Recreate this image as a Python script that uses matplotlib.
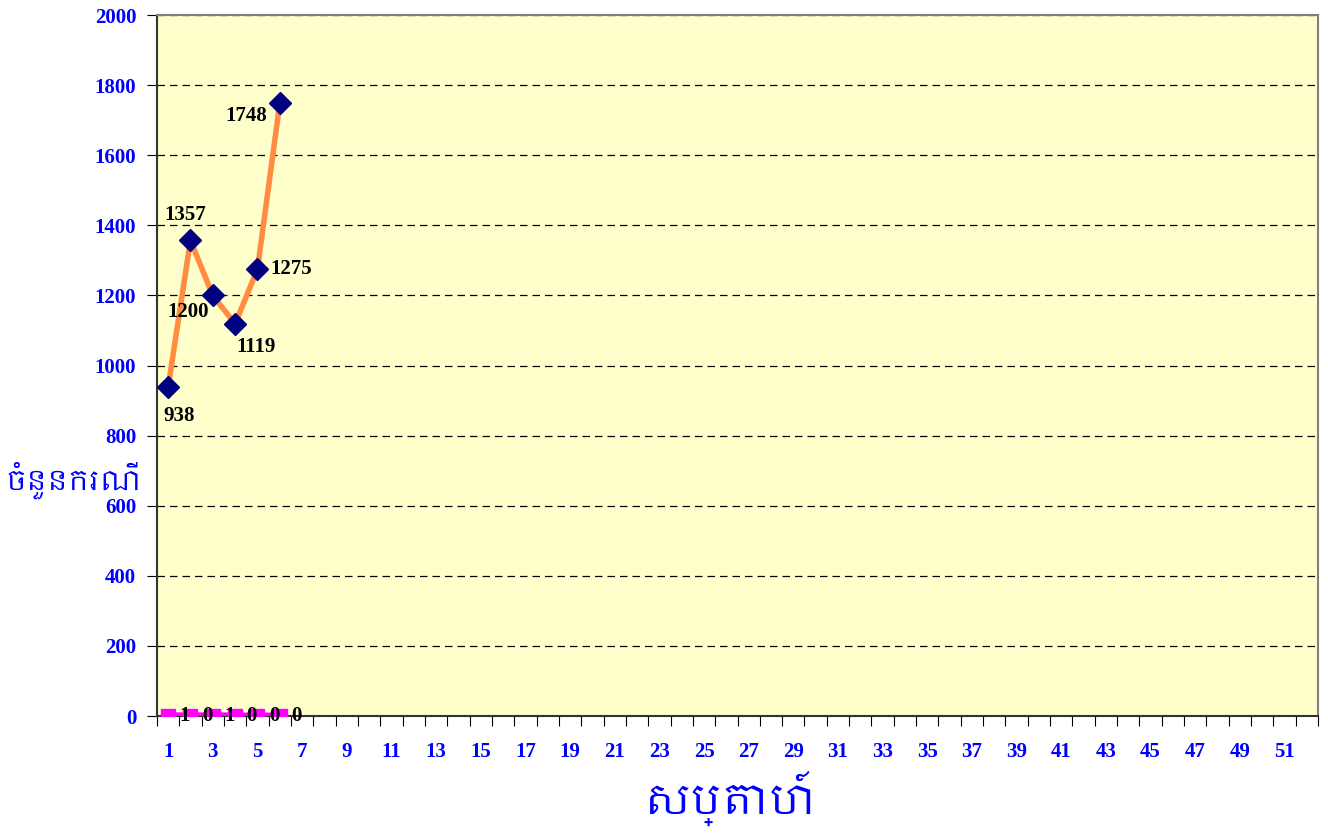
import matplotlib
matplotlib.use("Agg")
import matplotlib.pyplot as plt
from matplotlib import font_manager
from matplotlib.ticker import FixedLocator, NullFormatter

weeks = list(range(1, 53))
cases_weeks = [1, 2, 3, 4, 5, 6]
cases = [938, 1357, 1200, 1119, 1275, 1748]
deaths = [1, 0, 1, 0, 0, 0]
y_ticks = [0, 200, 400, 600, 800, 1000, 1200, 1400, 1600, 1800, 2000]
y_label = "ចំនួនករណី"
x_label = "សប្តាហ៍"

# look for a font that has khmer glyphs
khmer = []
for f in font_manager.fontManager.ttflist:
    if "khmer" in f.name.lower() and f.name not in khmer:
        khmer.append(f.name)
khmer_family = khmer + ["DejaVu Sans"]

serif = "Liberation Serif"

fig = plt.figure(figsize=(13.28, 8.36), dpi=100)
ax = fig.add_axes([0.1182, 0.1435, 0.8743, 0.8385])
ax.set_facecolor("#FFFFCC")

ax.plot(cases_weeks, cases, color="#FF8C40", lw=4, zorder=3)
ax.plot(cases_weeks, cases, ls="none", marker="D", markersize=11,
        color="#000080", zorder=4)
ax.plot(cases_weeks, deaths, color="#FF00FF", lw=5, marker="s",
        markersize=10, zorder=3)

# data labels (offsets in points)
offs = [(8, -21), (-4, 18), (-18, -12), (15, -17), (24, 0), (-24, -9)]
for x, y, o in zip(cases_weeks, cases, offs):
    ax.annotate(str(y), (x, y), xytext=o, textcoords="offset points",
                ha="center", va="center", fontsize=15, fontweight="bold",
                family=serif, color="black", zorder=5)
for x, y in zip(cases_weeks, deaths):
    ax.annotate(str(y), (x, y), xytext=(12, 0), textcoords="offset points",
                ha="center", va="center", fontsize=15, fontweight="bold",
                family=serif, color="black", zorder=5)

ax.set_xlim(0.5, 52.5)
ax.set_ylim(0, 2000)
ax.set_yticks(y_ticks)
ax.set_yticklabels([str(v) for v in y_ticks])
ax.yaxis.grid(True, color="black", ls=(0, (6, 4)), lw=0.9)
ax.set_axisbelow(True)

ax.xaxis.set_major_locator(FixedLocator([w + 0.5 for w in range(0, 53)]))
ax.xaxis.set_major_formatter(NullFormatter())
ax.xaxis.set_minor_locator(FixedLocator([w for w in weeks if w % 2 == 1]))
ax.set_xticklabels([str(w) for w in weeks if w % 2 == 1], minor=True)
ax.tick_params(axis="x", which="minor", length=0, pad=19)
ax.tick_params(axis="x", which="major", length=7, direction="out", color="black")
ax.tick_params(axis="y", length=7, direction="out", color="black", pad=8)

for lab in ax.get_xticklabels(minor=True) + ax.get_yticklabels():
    lab.set_family(serif)
    lab.set_fontweight("bold")
    lab.set_fontsize(15)
    lab.set_color("#0000FF")

for s in ["top", "right"]:
    ax.spines[s].set_color("#808080")
    ax.spines[s].set_linewidth(1.5)
for s in ["left", "bottom"]:
    ax.spines[s].set_color("#333333")
    ax.spines[s].set_linewidth(1.5)

fig.text(0.004, 0.425, y_label, ha="left", va="center", fontsize=20,
         fontweight="bold", color="#0000FF", family=khmer_family)
fig.text(0.55, 0.045, x_label, ha="center", va="center", fontsize=30,
         fontweight="bold", color="#0000FF", family=khmer_family)

fig.savefig("out.png", dpi=100)
